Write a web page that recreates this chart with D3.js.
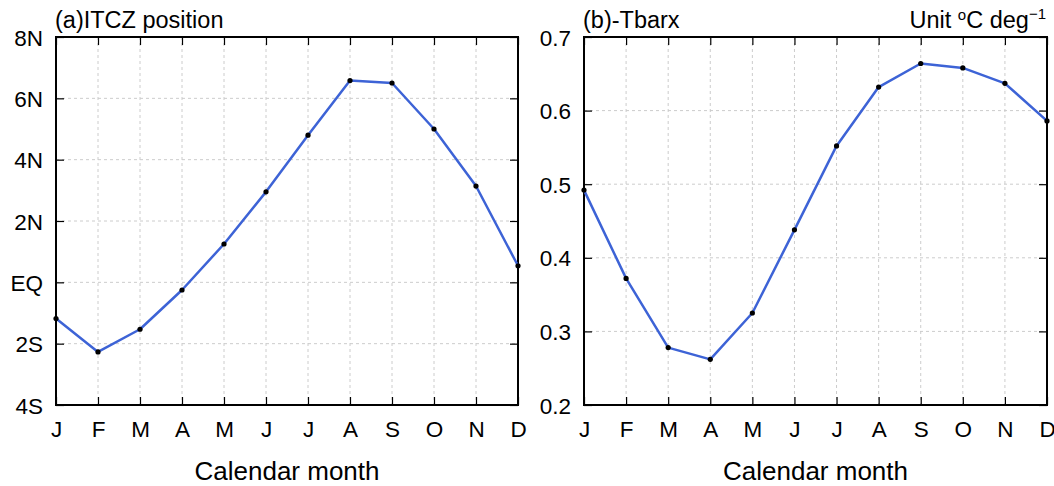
<!DOCTYPE html>
<html><head><meta charset="utf-8">
<script src="https://cdn.jsdelivr.net/npm/d3@7"></script>
<style>body{margin:0;background:#fff}svg{display:block}text{font-family:"Liberation Sans",Arial,Helvetica,sans-serif;fill:#000}</style>
</head><body><svg id="c" width="1054" height="486"></svg>
<script>
const months = ["J","F","M","A","M","J","J","A","S","O","N","D"];
const itczValues = [-1.18, -2.27, -1.53, -0.25, 1.25, 2.95, 4.8, 6.58, 6.5, 5.0, 3.14, 0.54];
const tbarxValues = [0.492, 0.372, 0.278, 0.262, 0.325, 0.438, 0.552, 0.632, 0.664, 0.658, 0.637, 0.586];
const itczTicks = [-4, -2, 0, 2, 4, 6, 8];
const itczTickLabels = ["4S", "2S", "EQ", "2N", "4N", "6N", "8N"];
const tbarxTicks = [0.2, 0.3, 0.4, 0.5, 0.6, 0.7];
const tbarxTickLabels = ["0.2", "0.3", "0.4", "0.5", "0.6", "0.7"];

const svg = d3.select("#c");
const plotTop = 37, plotBottom = 405;

function panel(opts) {
  const {left, right, values, ticks, tickLabels, domain, title} = opts;
  const g = svg.append("g");
  const x = d3.scaleLinear().domain([0, 11]).range([left, right]);
  const y = d3.scaleLinear().domain(domain).range([plotBottom, plotTop]);
  const idx = d3.range(12);
  g.selectAll(".gx").data(idx.slice(1, 11)).join("line")
    .attr("x1", d => x(d)).attr("x2", d => x(d)).attr("y1", plotTop).attr("y2", plotBottom)
    .attr("stroke", "#cccccc").attr("stroke-width", 1).attr("stroke-dasharray", "3,3");
  g.selectAll(".gy").data(ticks.slice(1, ticks.length - 1)).join("line")
    .attr("x1", left).attr("x2", right).attr("y1", d => y(d)).attr("y2", d => y(d))
    .attr("stroke", "#cccccc").attr("stroke-width", 1).attr("stroke-dasharray", "3,3");
  const tl = 8;
  const fmtY = (d) => tickLabels[ticks.indexOf(d)];
  const axB = g.append("g").attr("transform", `translate(0,${plotBottom})`)
    .call(d3.axisBottom(x).tickValues(idx).tickSize(-tl).tickPadding(16).tickFormat(i => months[i]));
  const axT = g.append("g").attr("transform", `translate(0,${plotTop})`)
    .call(d3.axisTop(x).tickValues(idx).tickSize(-tl).tickFormat(""));
  const axL = g.append("g").attr("transform", `translate(${left},0)`)
    .call(d3.axisLeft(y).tickValues(ticks).tickSize(-tl).tickPadding(13).tickFormat(fmtY));
  const axR = g.append("g").attr("transform", `translate(${right},0)`)
    .call(d3.axisRight(y).tickValues(ticks).tickSize(-tl).tickFormat(""));
  [axB, axT, axL, axR].forEach(a => {
    a.select(".domain").remove();
    a.selectAll(".tick line").attr("stroke", "#000").attr("stroke-width", 1.2);
    a.selectAll("text").style("font-family", '"Liberation Sans",Arial,sans-serif').style("font-size", "22.5px").attr("fill", "#000");
  });
  axL.selectAll("text").attr("dy", "0.36em");
  g.append("rect").attr("x", left).attr("y", plotTop).attr("width", right - left).attr("height", plotBottom - plotTop)
    .attr("fill", "none").attr("stroke", "#000").attr("stroke-width", 2);
  const line = d3.line().x((d, i) => x(i)).y(d => y(d));
  g.append("path").datum(values).attr("d", line).attr("fill", "none")
    .attr("stroke", "#3d63d6").attr("stroke-width", 2.5).attr("stroke-linejoin", "round");
  g.selectAll(".pt").data(values).join("circle")
    .attr("cx", (d, i) => x(i)).attr("cy", d => y(d)).attr("r", 2.6).attr("fill", "#000");
  g.append("text").attr("x", left - 1).attr("y", 28).style("font-size", "23.5px").text(title);
  g.append("text").attr("x", (left + right) / 2).attr("y", 480).attr("text-anchor", "middle")
    .style("font-size", "26px").text("Calendar month");
  return g;
}

panel({left: 56, right: 518, values: itczValues, ticks: itczTicks, tickLabels: itczTickLabels, domain: [-4, 8], title: "(a)ITCZ position"});
const gb = panel({left: 584, right: 1047, values: tbarxValues, ticks: tbarxTicks, tickLabels: tbarxTickLabels, domain: [0.2, 0.7], title: "(b)-Tbarx"});
const unit = gb.append("text").attr("x", 1046).attr("y", 28).attr("text-anchor", "end").style("font-size", "23.5px");
unit.append("tspan").text("Unit ");
unit.append("tspan").attr("dy", -8).style("font-size", "15px").text("o");
unit.append("tspan").attr("dy", 8).text("C deg");
unit.append("tspan").attr("dy", -9).style("font-size", "15px").text("\u22121");
</script></body></html>
